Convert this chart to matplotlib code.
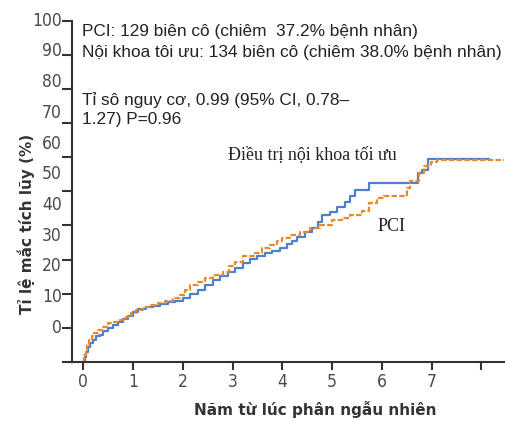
import matplotlib
matplotlib.use("Agg")
import matplotlib.pyplot as plt
import numpy as np

# Cumulative incidence (%), step curves
blue_t = [0, 0.03, 0.06, 0.1, 0.14, 0.2, 0.26, 0.33, 0.4, 0.5, 0.6, 0.7, 0.8, 0.9,
          1.0, 1.1, 1.25, 1.4, 1.55, 1.7, 1.85, 2.0, 2.15, 2.3, 2.45, 2.6, 2.75, 2.9,
          3.05, 3.2, 3.35, 3.5, 3.65, 3.8, 3.95, 4.1, 4.2, 4.3, 4.45, 4.6, 4.72, 4.8,
          4.95, 5.1, 5.25, 5.35, 5.45, 5.75, 6.72, 6.8, 6.92, 8.15]
blue_v = [0, 1.5, 3, 4.5, 5.5, 6.5, 7.5, 8, 9, 10, 10.8, 11.6, 12.5, 13.5,
          14.7, 15.5, 16, 16.5, 17, 17.5, 18, 18.8, 20, 21, 22.5, 24, 25.3, 26.3,
          27.5, 29, 30.3, 31, 31.8, 32.5, 33.4, 34.5, 35.5, 36.7, 38, 39.3, 41, 43,
          44, 45.5, 47, 48.5, 50.4, 52.5, 55.4, 56.3, 59.5, 59.5]

orange_t = [0, 0.02, 0.05, 0.08, 0.12, 0.17, 0.22, 0.3, 0.4, 0.5, 0.6, 0.74, 0.85, 0.95,
            1.05, 1.2, 1.35, 1.5, 1.65, 1.8, 1.95, 2.05, 2.15, 2.3, 2.45, 2.6, 2.8, 2.92,
            3.05, 3.2, 3.45, 3.6, 3.75, 3.9, 4.0, 4.15, 4.35, 4.55, 4.75, 5.0, 5.2, 5.35,
            5.6, 5.75, 5.9, 6.05, 6.5, 6.57, 6.75, 6.85, 6.98, 7.1, 8.45]
orange_v = [0, 2, 3.5, 5, 6.4, 7.5, 8.5, 9.4, 10.3, 11.4, 11.8, 12.3, 13.2, 14.3,
            15.3, 16, 16.7, 17.3, 18, 18.8, 19.6, 21, 22.5, 23.5, 24.5, 25.5, 26.5, 28,
            29.3, 31, 32, 33.3, 34.3, 35.5, 36.3, 37.2, 38.1, 39.3, 40.2, 41.5, 42.2, 43,
            44.1, 46.6, 48, 48.5, 51, 52.9, 55.4, 57.3, 58.7, 59.2, 59.2]

x_ticks = [0, 1, 2, 3, 4, 5, 6, 7, 8]
x_labels = ['0', '1', '2', '3', '4', '5', '6', '7', '']
y_label_values = [0, 10, 20, 30, 40, 50, 60, 70, 80, 90, 100]

blue = '#4f80cc'
orange = '#e8892e'
ink = '#333333'
tick_kw = dict(fontfamily='DejaVu Sans', fontstretch='condensed', fontsize=12.5,
               color='#4a4a4a')

fig = plt.figure(figsize=(5.05, 4.23), dpi=100)
ax = fig.add_axes([0.1426, 0.1442, 0.857, 0.807])

ax.step(blue_t, blue_v, where='post', color=blue, lw=1.6)
ax.step(orange_t, orange_v, where='post', color=orange, lw=1.6,
        linestyle=(0, (2.5, 1)))

ax.set_xlim(-0.227, 8.47)
ax.set_ylim(0, 100)

for s in ['top', 'right']:
    ax.spines[s].set_visible(False)
for s in ['left', 'bottom']:
    ax.spines[s].set_linewidth(1.5)
    ax.spines[s].set_color(ink)

ax.set_xticks(x_ticks)
ax.set_xticklabels(x_labels, **tick_kw)
ax.set_yticks(np.arange(0, 101, 10))
ax.set_yticklabels([])
ax.tick_params(axis='x', length=6, width=1.5, color=ink, pad=2)
ax.tick_params(axis='y', length=7, width=1.5, color=ink)

# y tick labels sit slightly compressed relative to the ticks, as in the source
for k in y_label_values:
    ax.text(-0.023, 10 + 0.9 * k, str(k), transform=ax.get_yaxis_transform(),
            ha='right', va='center', **tick_kw)

ax.set_ylabel('Tỉ lệ mắc tích lũy (%)', fontsize=11, fontweight='bold', color=ink)
ax.yaxis.set_label_coords(-0.085, 0.404)
ax.set_xlabel('Năm từ lúc phân ngẫu nhiên', fontsize=11, fontweight='bold', color=ink)
ax.xaxis.set_label_coords(0.561, -0.115)

txt = dict(fontsize=12.4, color='#222222', fontfamily='Liberation Sans',
           ha='left', va='center')
ax.text(-0.03, 96.7, 'PCI: 129 biên cô (chiêm  37.2% bệnh nhân)', **txt)
ax.text(-0.03, 90.8, 'Nội khoa tôi ưu: 134 biên cô (chiêm 38.0% bệnh nhân)', **txt)
ax.text(-0.03, 76.8, 'Tỉ sô nguy cơ, 0.99 (95% CI, 0.78–', **txt)
ax.text(-0.03, 70.9, '1.27) P=0.96', **txt)

ser = dict(fontsize=13, color='#222222', fontfamily='Liberation Serif',
           ha='left', va='center')
ax.text(2.9, 60.6, 'Điều trị nội khoa tối ưu', **ser)
ax.text(5.92, 39.8, 'PCI', **ser)

fig.savefig('out.png', dpi=100)
